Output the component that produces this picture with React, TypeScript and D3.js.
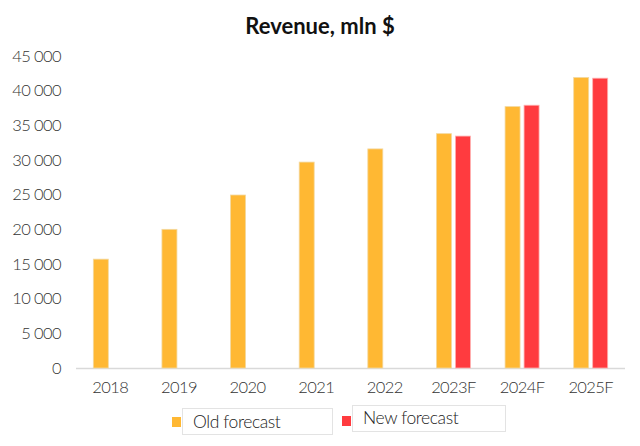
import React from "react";
import * as d3 from "d3";

const categories = ["2018", "2019", "2020", "2021", "2022", "2023F", "2024F", "2025F"];
const oldForecast: (number | null)[] = [15700, 20000, 24950, 29700, 31600, 33800, 37700, 41900];
const newForecast: (number | null)[] = [null, null, null, null, null, 33450, 37900, 41800];
const yTicks = [0, 5000, 10000, 15000, 20000, 25000, 30000, 35000, 40000, 45000];
const seriesNames = ["Old forecast", "New forecast"];
const colors = ["#FFB833", "#FF3B3F"];

const W = 640, H = 446;
const left = 76, right = 625, top = 56, bottom = 368;
const font = "Lato, 'Open Sans', sans-serif";

export default function App() {
  const x = d3.scaleBand().domain(categories).range([left, right]).paddingInner(0).paddingOuter(0);
  const y = d3.scaleLinear().domain([0, 45000]).range([bottom, top]);
  const fmt = (v: number) => d3.format(",")(v).replace(/,/g, " ");
  const bw = 15, gap = 4;
  const series = [oldForecast, newForecast];
  return (
    <svg width={W} height={H} style={{ position: "absolute", left: 0, top: 0, background: "#fff" }}>
      <text x={320} y={34} textAnchor="middle" fontFamily={font} fontWeight="bold" fontSize={22} fill="#111">Revenue, mln $</text>
      {yTicks.map(t => (
        <text key={t} x={61} y={y(t)} dy="0.35em" textAnchor="end" fontFamily={font} fontWeight={300} fontSize={16.5} fill="#333" letterSpacing={-0.6}>{fmt(t)}</text>
      ))}
      <line x1={left} x2={right} y1={bottom + 0.5} y2={bottom + 0.5} stroke="#d9d9d9" strokeWidth={1.5} />
      {categories.map((c, i) => {
        const cx = (x(c) as number) + x.bandwidth() / 2;
        return (
          <g key={c}>
            {series.map((s, si) => {
              const v = s[i];
              if (v == null) return null;
              const bx = si === 0 ? cx - gap / 2 - bw : cx + gap / 2;
              return <rect key={si} x={bx} y={y(v)} width={bw} height={bottom - y(v)} fill={colors[si]} stroke={si === 0 ? "#f3d9a0" : "#ffb0b0"} strokeWidth={0.8} />;
            })}
            <text x={cx} y={393} textAnchor="middle" fontFamily={font} fontWeight={300} fontSize={16.5} fill="#333" letterSpacing={-0.6}>{c}</text>
          </g>
        );
      })}
      {/* legend */}
      <rect x={172} y={417} width={9} height={10} fill={colors[0]} />
      <rect x={182.5} y={408.5} width={150} height={26} fill="none" stroke="#e3e3e3" />
      <text x={193} y={428} fontFamily={font} fontWeight={300} fontSize={17.5} fill="#222" letterSpacing={-0.4}>{seriesNames[0]}</text>
      <rect x={342} y={416} width={9} height={10} fill={colors[1]} />
      <rect x={352.5} y={405.5} width={153} height={26} fill="none" stroke="#e3e3e3" />
      <text x={363} y={424} fontFamily={font} fontWeight={300} fontSize={17.5} fill="#222" letterSpacing={-0.4}>{seriesNames[1]}</text>
    </svg>
  );
}
